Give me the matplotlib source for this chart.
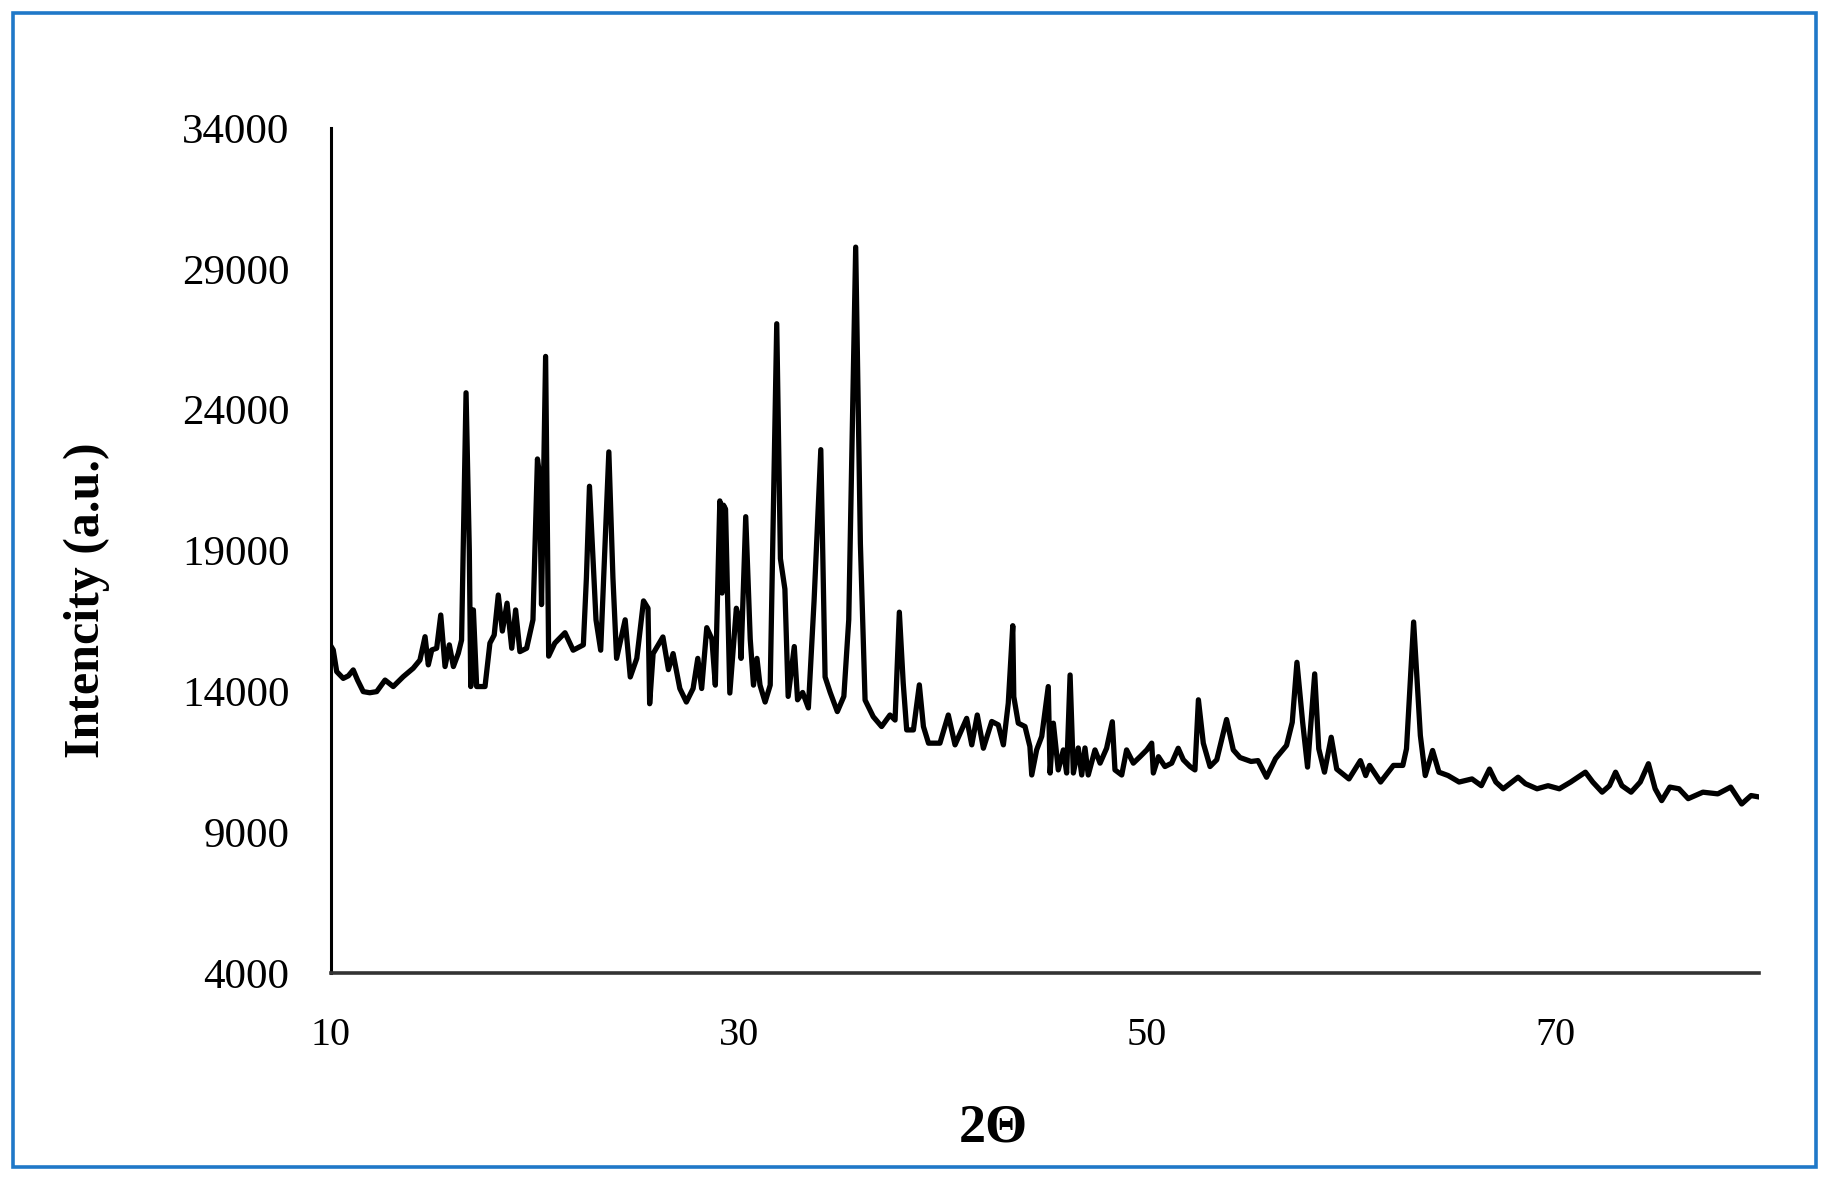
import matplotlib
matplotlib.use("Agg")
import matplotlib.pyplot as plt
from matplotlib.patches import Rectangle

two_theta = [
    10.0, 10.11, 10.28, 10.6, 10.85, 11.09, 11.3, 11.58, 11.9, 12.24, 12.65, 13.05, 13.54, 14.03, 14.36, 14.61, 14.77, 14.94, 15.18, 15.38,
    15.59, 15.8, 16.0, 16.24, 16.4, 16.62, 16.78, 16.85, 16.98, 17.14, 17.55, 17.79, 18.0, 18.2, 18.4, 18.63, 18.86, 19.05, 19.26, 19.59,
    19.9, 20.12, 20.22, 20.32, 20.52, 20.67, 20.97, 21.47, 21.87, 22.37, 22.52, 22.67, 22.84, 22.99, 23.22, 23.62, 23.82, 24.0, 24.42, 24.67,
    24.99, 25.32, 25.54, 25.62, 25.79, 26.27, 26.54, 26.77, 27.1, 27.42, 27.75, 27.98, 28.17, 28.42, 28.67, 28.84, 29.06, 29.17, 29.24, 29.34,
    29.55, 29.87, 30.02, 30.1, 30.33, 30.55, 30.71, 30.88, 31.03, 31.28, 31.53, 31.85, 32.03, 32.25, 32.41, 32.71, 32.87, 33.12, 33.4, 33.68,
    34.01, 34.22, 34.47, 34.82, 35.14, 35.38, 35.72, 35.95, 36.18, 36.58, 36.99, 37.4, 37.65, 37.86, 38.05, 38.22, 38.55, 38.84, 39.04, 39.29,
    39.85, 40.26, 40.59, 41.16, 41.41, 41.68, 41.98, 42.39, 42.71, 42.96, 43.2, 43.42, 43.47, 43.69, 44.02, 44.26, 44.35, 44.59, 44.84, 45.16,
    45.25, 45.41, 45.65, 45.9, 46.06, 46.23, 46.39, 46.63, 46.8, 46.96, 47.12, 47.45, 47.7, 48.02, 48.3, 48.43, 48.76, 49.0, 49.33, 49.66,
    49.99, 50.23, 50.31, 50.56, 50.88, 51.21, 51.53, 51.78, 52.11, 52.35, 52.52, 52.76, 53.09, 53.42, 53.9, 54.23, 54.56, 55.1, 55.44, 55.86,
    56.3, 56.84, 57.12, 57.35, 57.63, 57.87, 58.22, 58.42, 58.7, 59.03, 59.3, 59.9, 60.46, 60.72, 60.91, 61.45, 62.08, 62.54, 62.72, 63.07,
    63.4, 63.64, 64.0, 64.31, 64.76, 65.3, 65.93, 66.39, 66.79, 67.1, 67.46, 68.19, 68.55, 69.12, 69.66, 70.21, 70.77, 71.49, 71.85, 72.31,
    72.67, 72.97, 73.28, 73.73, 74.18, 74.58, 74.91, 75.23, 75.63, 76.08, 76.53, 77.25, 77.98, 78.61, 79.15, 79.61, 80.0,
]

intensity = [
    15600, 15470, 14700, 14460, 14550, 14760, 14400, 13990, 13950, 13990, 14400, 14170, 14520, 14820, 15110, 15940, 14940, 15470, 15530, 16710,
    14880, 15650, 14880, 15350, 15820, 24600, 19000, 14170, 16890, 14170, 14170, 15710, 16000, 17420, 16140, 17130, 15530, 16890, 15410, 15530,
    16540, 22250, 21700, 17080, 25890, 15250, 15710, 16080, 15460, 15650, 18030, 21280, 18770, 16540, 15460, 22500, 18030, 15170, 16540, 14510,
    15170, 17210, 16950, 13560, 15340, 15930, 14770, 15340, 14100, 13620, 14100, 15170, 14100, 16260, 15860, 14220, 20760, 17490, 20610, 20470,
    13940, 16950, 16540, 15170, 20200, 15860, 14220, 15170, 14220, 13620, 14220, 27050, 18710, 17630, 13820, 15590, 13700, 13960, 13410, 17210,
    22580, 14510, 13960, 13280, 13820, 16540, 29770, 19250, 13690, 13100, 12750, 13160, 12980, 16810, 14290, 12630, 12630, 14230, 12750, 12160,
    12160, 13160, 12100, 13040, 12100, 13160, 11980, 12930, 12810, 12100, 13580, 16330, 13810, 12870, 12750, 12040, 11030, 11920, 12400, 14170,
    11100, 12870, 11210, 11920, 11100, 14580, 11100, 11990, 11030, 11990, 11030, 11920, 11450, 11980, 12920, 11210, 11030, 11920, 11450, 11680,
    11920, 12160, 11100, 11680, 11330, 11450, 11980, 11570, 11330, 11210, 13700, 12160, 11330, 11570, 13000, 11920, 11650, 11510, 11540, 10950,
    11610, 12080, 12900, 15030, 12900, 11310, 14620, 11960, 11130, 12370, 11240, 10890, 11540, 11010, 11370, 10780, 11370, 11370, 11960, 16460,
    12430, 11010, 11900, 11130, 11010, 10780, 10890, 10650, 11240, 10780, 10540, 10950, 10720, 10540, 10650, 10540, 10780, 11130, 10780, 10420,
    10650, 11130, 10650, 10420, 10780, 11430, 10540, 10120, 10600, 10540, 10190, 10420, 10360, 10600, 10000, 10300, 10250,
]

x_ticks = [10, 30, 50, 70]
y_ticks = [4000, 9000, 14000, 19000, 24000, 29000, 34000]

plt.rcParams['font.family'] = ['Liberation Serif', 'DejaVu Serif']

W, H = 1830, 1181
fig = plt.figure(figsize=(W / 100, H / 100), dpi=100)
ax = fig.add_axes([331 / W, 1 - 973 / H, (1759 - 331) / W, (973 - 128) / H])

ax.plot(two_theta, intensity, color='black', lw=3.8, solid_joinstyle='round')

ax.set_xlim(10, 80)
ax.set_ylim(4000, 34000)
ax.set_xticks(x_ticks)
ax.set_xticklabels([str(v) for v in x_ticks])
ax.set_yticks(y_ticks)
ax.set_yticklabels([str(v) for v in y_ticks])
ax.tick_params(axis='both', length=0)
ax.tick_params(axis='y', labelsize=31, pad=30)
ax.tick_params(axis='x', labelsize=29, pad=32)

for s in ['top', 'right']:
    ax.spines[s].set_visible(False)
ax.spines['left'].set_linewidth(2.2)
ax.spines['left'].set_color('black')
ax.spines['bottom'].set_linewidth(2.6)
ax.spines['bottom'].set_color('#333333')

fig.text(87 / W, 1 - 600 / H, 'Intencity (a.u.)', rotation=90, ha='center', va='center',
         fontsize=36, fontweight='bold')
fig.text(993 / W, 1 - 1128 / H, '2Θ', ha='center', va='center', fontsize=39, fontweight='bold')

fig.patches.append(Rectangle((13 / W, 1 - 1167 / H), (1816 - 13) / W, (1167 - 13) / H,
                             transform=fig.transFigure, fill=False, edgecolor='#1F78C8', lw=2.6))

fig.savefig('out.png', dpi=100)
